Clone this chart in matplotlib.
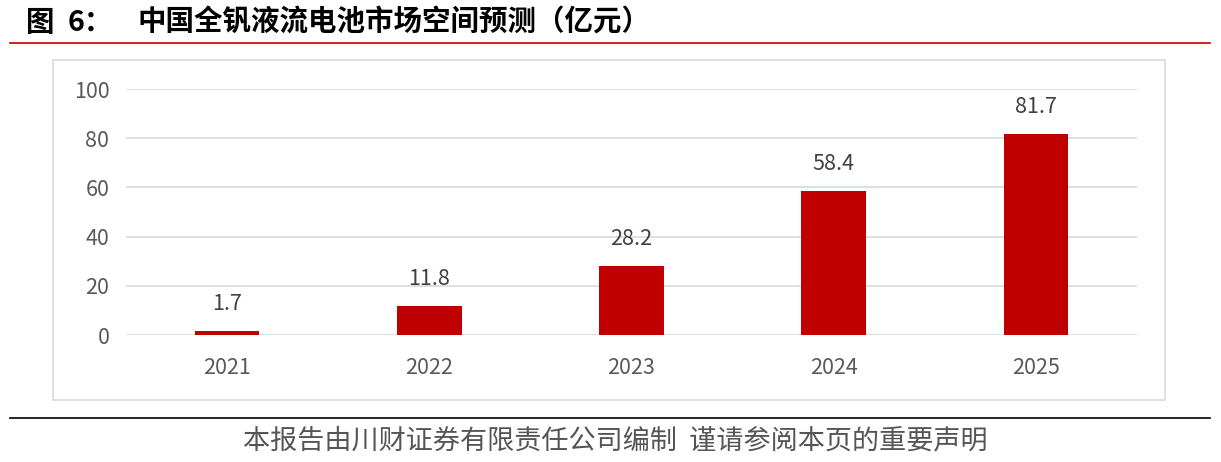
import matplotlib
matplotlib.use("Agg")
import matplotlib.pyplot as plt
from matplotlib.patches import Rectangle
from matplotlib.lines import Line2D

plt.rcParams['font.family'] = ['Noto Sans CJK SC', 'DejaVu Sans']

years = ["2021", "2022", "2023", "2024", "2025"]
values = [1.7, 11.8, 28.2, 58.4, 81.7]
yticks = [0, 20, 40, 60, 80, 100]
title_fig = "图"
title_num = "6："
title = "中国全钒液流电池市场空间预测（亿元）"
footer = "本报告由川财证券有限责任公司编制  谨请参阅本页的重要声明"

W, H = 1221, 462
fig = plt.figure(figsize=(W/100, H/100), dpi=100)

def fx(px): return px / W
def fy(py): return 1 - py / H

# title
fig.text(fx(26), fy(23), title_fig, fontsize=20.5, fontweight='bold', color='black', va='center', ha='left')
fig.text(fx(68), fy(23), title_num, fontsize=20.5, fontweight='bold', color='black', va='center', ha='left')
fig.text(fx(137), fy(23), title, fontsize=20.5, fontweight='bold', color='black', va='center', ha='left')
fig.add_artist(Line2D([fx(10), fx(1210)], [fy(43), fy(43)], color='#c00000', lw=1.2))
# chart border
fig.add_artist(Rectangle((fx(53), fy(400)), fx(1165) - fx(53), fy(60) - fy(400),
                         fill=False, edgecolor='#d9d9d9', lw=1.2))
# bottom line and footer
fig.add_artist(Line2D([fx(10), fx(1210)], [fy(418), fy(418)], color='black', lw=1.2))
fig.text(fx(615), fy(441), footer, fontsize=19.5, color='#555555', va='center', ha='center')

ax = fig.add_axes([fx(126), fy(335), fx(1137) - fx(126), fy(89) - fy(335)])
x = range(len(years))
bars = ax.bar(x, values, width=0.32, color='#c00000', zorder=3)
for xi, v in zip(x, values):
    ax.text(xi, v + 11, f"{v}", ha='center', va='center', fontsize=15.5, color='#404040')
ax.set_ylim(0, 100)
ax.set_xlim(-0.5, len(years) - 0.5)
ax.set_yticks(yticks)
ax.set_yticklabels([str(t) for t in yticks])
ax.set_xticks(list(x))
ax.set_xticklabels(years)
ax.grid(axis='y', color='#d9d9d9', lw=1.2, zorder=0)
for s in ax.spines.values():
    s.set_visible(False)
ax.tick_params(length=0, labelsize=15.5, colors='#595959')
ax.tick_params(axis='y', pad=12)
ax.tick_params(axis='x', pad=16)

fig.savefig("out.png", dpi=100)
